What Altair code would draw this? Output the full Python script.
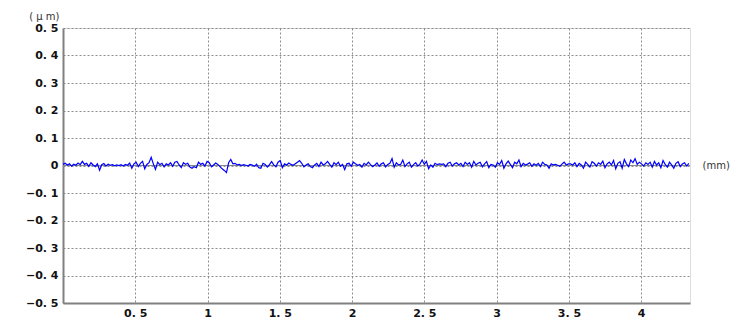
import altair as alt
import pandas as pd

# Roughness profile (μm) sampled along 0 .. 4.33 mm
seg1 = [0.004, 0.008, 0.002, 0.006, -0.002, 0.005, 0.001, 0.009, 0.003, 0.015,
        0.004, 0.008, -0.003, 0.010, 0.002, -0.004, 0.006, -0.017, 0.003, 0.007,
        -0.002, 0.005, 0.001, 0.003, -0.001, 0.002, 0.000, 0.003, -0.002, 0.004,
        0.001, 0.009, -0.010, 0.006, 0.012, -0.004, 0.008, 0.015, -0.012, 0.004,
        0.010, 0.030, 0.006, -0.014, 0.012, 0.003, 0.008, -0.005, 0.006, 0.002,
        0.010, -0.003, 0.012, 0.015, 0.002, -0.008, 0.010, 0.004, 0.008]
seg2 = [-0.006, -0.010, -0.004, -0.008, 0.012, 0.004, 0.008, -0.002, 0.015, 0.010,
        -0.005, 0.002, 0.009, 0.004, -0.004, -0.012, -0.018, -0.026, 0.010, 0.022,
        0.006, 0.008, 0.002, 0.004, 0.000, 0.003, 0.001, -0.002, 0.004, 0.002,
        -0.003, 0.005, -0.008, -0.010, 0.008, 0.004, -0.006, 0.003, 0.014, 0.002,
        -0.005, 0.012, 0.018, -0.008, 0.006, 0.002, 0.009, 0.004, 0.001, 0.006,
        0.012, 0.018, 0.008, -0.005, 0.002, 0.006, -0.004, -0.008, 0.002]
seg3 = [0.008, -0.004, 0.012, 0.002, 0.006, 0.015, 0.004, -0.006, 0.010, 0.003,
        0.012, -0.002, 0.004, -0.015, 0.006, 0.008, -0.003, 0.012, 0.006, 0.001,
        0.004, -0.006, 0.008, 0.002, 0.012, 0.003, -0.004, 0.002, 0.009, -0.003,
        0.006, 0.010, -0.005, 0.004, 0.008, 0.025, -0.006, 0.010, 0.002, 0.004,
        0.020, -0.004, 0.006, 0.012, -0.006, 0.003, 0.010, -0.002, 0.006, 0.020,
        0.004, 0.015, -0.012, 0.002, -0.006, 0.008, 0.003, 0.006, 0.004]
seg4 = [0.006, -0.004, 0.008, 0.012, -0.002, 0.006, 0.010, 0.002, 0.008, -0.004,
        0.012, 0.004, 0.010, -0.006, 0.015, 0.002, 0.008, 0.012, -0.005, 0.006,
        0.014, -0.008, 0.004, 0.002, -0.006, 0.010, 0.004, 0.018, -0.010, 0.006,
        0.016, 0.004, -0.008, 0.012, 0.006, 0.020, -0.004, 0.008, 0.002, 0.005,
        0.010, -0.003, 0.006, 0.001, 0.008, -0.004, 0.012, 0.004, 0.002, -0.010,
        0.006, 0.002, 0.004, 0.001, -0.003, 0.005, 0.012, 0.002, 0.006]
seg5 = [0.006, 0.002, 0.010, -0.004, 0.008, 0.002, -0.010, 0.012, 0.004, -0.006,
        0.014, 0.008, -0.002, 0.010, 0.004, 0.016, -0.008, 0.006, 0.012, 0.002,
        0.018, -0.012, 0.008, 0.014, -0.010, 0.022, 0.006, -0.004, 0.020, 0.010,
        0.025, 0.004, 0.012, 0.006, -0.002, 0.010, 0.004, 0.012, -0.006, 0.015,
        0.002, 0.010, -0.008, 0.018, 0.004, -0.006, 0.012, 0.002, -0.010, 0.008,
        0.014, -0.004, 0.006, 0.010, -0.002, 0.008]

profile = seg1 + seg2 + seg3 + seg4 + seg5
x_end = 4.33
x_max = 4.338
x_ticks = [0.5, 1, 1.5, 2, 2.5, 3, 3.5, 4]
y_ticks = [-0.5, -0.4, -0.3, -0.2, -0.1, 0, 0.1, 0.2, 0.3, 0.4, 0.5]

n = len(profile)
df = pd.DataFrame({"x": [i * x_end / (n - 1) for i in range(n)], "y": profile})

W, H = 627, 275
FONT = "DejaVu Sans"
FRAME = "#808080"
lbl = "datum.value == 0 ? '0' : replace(format(datum.value, '.1f'), '.', '. ')"
xlbl = "datum.value % 1 == 0 ? format(datum.value, 'd') : replace(format(datum.value, '.1f'), '.', '. ')"

common = dict(ticks=False, domain=True, domainColor=FRAME, domainWidth=2,
              grid=True, gridDash=[2, 2], gridColor="#8c8c8c", gridWidth=1,
              labelFont=FONT, labelFontSize=11, labelColor="#111",
              labelFontWeight="bold", labelOverlap=False, labelFlush=False,
              tickCount=30,
              titleFont=FONT, titleFontSize=10, titleFontWeight="normal",
              titleColor="#333", titleAngle=0)

x_enc = alt.X("x:Q", scale=alt.Scale(domain=[0, x_max], nice=False, zero=False),
              axis=alt.Axis(values=x_ticks, labelExpr=xlbl, labelPadding=4,
                            title="(mm)", titleAlign="left", titleBaseline="middle",
                            titleX=W + 12, titleY=-H / 2, **common))
y_enc = alt.Y("y:Q", scale=alt.Scale(domain=[-0.5, 0.5], nice=False),
              axis=alt.Axis(values=y_ticks, labelExpr=lbl, labelPadding=5,
                            title="( μ m)", titleAlign="right", titleBaseline="middle",
                            titleX=-4, titleY=-12, **common))

zero = alt.Chart(df).mark_rule(color="#888", strokeWidth=1).encode(y=alt.datum(0))
line = alt.Chart(df).mark_line(color="#0000ff", strokeWidth=1.2, interpolate="linear").encode(
    x=x_enc, y=y_enc)

chart = alt.layer(zero, line).properties(
    width=W, height=H,
    autosize=alt.AutoSizeParams(type="none"),
    padding={"left": 63, "top": 28, "right": 60, "bottom": 26},
).configure_view(stroke=FRAME, strokeWidth=2).configure(background="white")

chart.save("out.html", embed_options={"renderer": "svg", "actions": False})
